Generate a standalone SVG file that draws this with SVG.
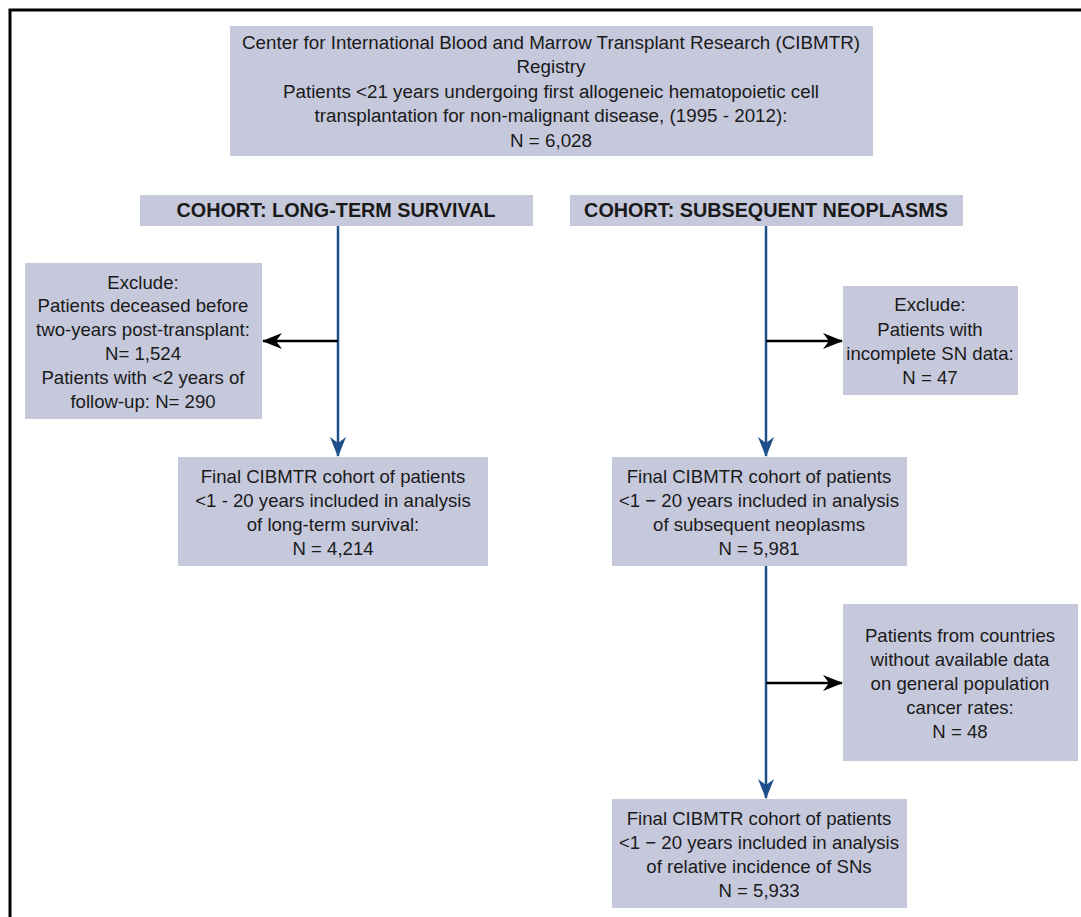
<svg xmlns="http://www.w3.org/2000/svg" width="1081" height="917" viewBox="0 0 1081 917">
<style>
.box{fill:#c6c9dc}
text{font-family:"Liberation Sans",Arial,sans-serif;font-size:18.6px;fill:#1a1a1a;text-anchor:middle}
.top{font-size:18.8px}
.hd{font-weight:bold;font-size:19.8px}
.blue{stroke:#1d4f8b;stroke-width:2.5;fill:none}
.blk{stroke:#000;stroke-width:2.5;fill:none}
</style>
<defs>
<marker id="ab" viewBox="0 0 20 16" refX="19" refY="8" markerWidth="20" markerHeight="16" markerUnits="userSpaceOnUse" orient="auto">
<path d="M0,0 L20,8 L0,16 L6,8 Z" fill="#1d4f8b"/>
</marker>
<marker id="ak" viewBox="0 0 20 16" refX="19" refY="8" markerWidth="20" markerHeight="16" markerUnits="userSpaceOnUse" orient="auto">
<path d="M0,0 L20,8 L0,16 L6,8 Z" fill="#000"/>
</marker>
</defs>
<rect width="1081" height="917" fill="#fff"/>
<path d="M10,917 V10 H1081" stroke="#000" stroke-width="3" fill="none"/>

<g id="connectors">
<line class="blue" x1="338" y1="226" x2="338" y2="456" marker-end="url(#ab)"/>
<line class="blk" x1="338" y1="341" x2="263" y2="341" marker-end="url(#ak)"/>
<line class="blue" x1="766" y1="226" x2="766" y2="456" marker-end="url(#ab)"/>
<line class="blk" x1="766" y1="341" x2="842" y2="341" marker-end="url(#ak)"/>
<line class="blue" x1="766" y1="566" x2="766" y2="798" marker-end="url(#ab)"/>
<line class="blk" x1="766" y1="683" x2="842" y2="683" marker-end="url(#ak)"/>
</g>

<g id="registry">
<rect class="box" x="230" y="26" width="643" height="130"/>
<text class="top" x="551" y="49">Center for International Blood and Marrow Transplant Research (CIBMTR)</text>
<text class="top" x="551" y="73">Registry</text>
<text class="top" x="551" y="98">Patients &lt;21 years undergoing first allogeneic hematopoietic cell</text>
<text class="top" x="551" y="122">transplantation for non-malignant disease, (1995 - 2012):</text>
<text class="top" x="551" y="147">N = 6,028</text>
</g>

<g id="cohort-survival">
<rect class="box" x="140" y="195" width="393" height="31"/>
<text class="hd" x="336" y="217">COHORT: LONG-TERM SURVIVAL</text>
</g>

<g id="cohort-neoplasms">
<rect class="box" x="570" y="195" width="393" height="31"/>
<text class="hd" x="766" y="217">COHORT: SUBSEQUENT NEOPLASMS</text>
</g>

<g id="exclude-survival">
<rect class="box" x="25" y="263" width="237" height="156"/>
<text x="143" y="289">Exclude:</text>
<text x="143" y="312">Patients deceased before</text>
<text x="143" y="336">two-years post-transplant:</text>
<text x="143" y="360">N= 1,524</text>
<text x="143" y="384">Patients with &lt;2 years of</text>
<text x="143" y="408">follow-up: N= 290</text>
</g>

<g id="final-survival">
<rect class="box" x="178" y="457" width="310" height="109"/>
<text x="333" y="483">Final CIBMTR cohort of patients</text>
<text x="333" y="507">&lt;1 - 20 years included in analysis</text>
<text x="333" y="531">of long-term survival:</text>
<text x="333" y="555">N = 4,214</text>
</g>

<g id="exclude-sn">
<rect class="box" x="843" y="286" width="175" height="109"/>
<text x="930" y="311">Exclude:</text>
<text x="930" y="336">Patients with</text>
<text x="930" y="360">incomplete SN data:</text>
<text x="930" y="384">N = 47</text>
</g>

<g id="final-sn">
<rect class="box" x="612" y="457" width="295" height="109"/>
<text x="759" y="483">Final CIBMTR cohort of patients</text>
<text x="759" y="507">&lt;1 − 20 years included in analysis</text>
<text x="759" y="531">of subsequent neoplasms</text>
<text x="759" y="555">N = 5,981</text>
</g>

<g id="exclude-countries">
<rect class="box" x="843" y="604" width="235" height="157"/>
<text x="960" y="642">Patients from countries</text>
<text x="960" y="666">without available data</text>
<text x="960" y="690">on general population</text>
<text x="960" y="714">cancer rates:</text>
<text x="960" y="738">N = 48</text>
</g>

<g id="final-sir">
<rect class="box" x="612" y="799" width="295" height="109"/>
<text x="759" y="825">Final CIBMTR cohort of patients</text>
<text x="759" y="849">&lt;1 − 20 years included in analysis</text>
<text x="759" y="873">of relative incidence of SNs</text>
<text x="759" y="897">N = 5,933</text>
</g>
</svg>
